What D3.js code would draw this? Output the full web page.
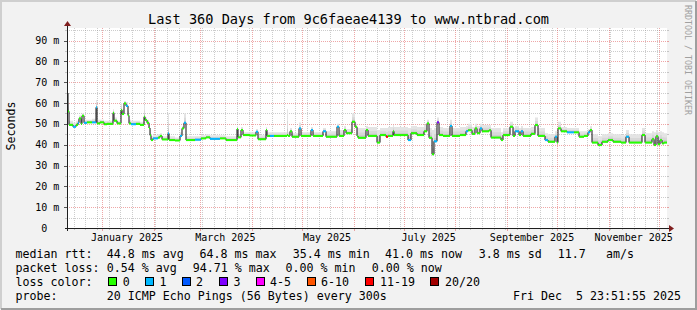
<!DOCTYPE html>
<html lang="en">
<head>
<meta charset="UTF-8">
<title>Last 360 Days</title>
<script src="https://cdn.jsdelivr.net/npm/d3@7"></script>
<style>
  html,body{margin:0;padding:0;background:#f2f2f2;}
  svg{display:block;}
  text{font-family:'DejaVu Sans Mono', monospace;fill:#000;}
</style>
</head>
<body>
<div id="chart"></div>
<script>
// graph window (smokeping, 360 days)
var startTime = Date.UTC(2024, 11, 10, 23, 51, 55);
var endTime   = Date.UTC(2025, 11, 5, 23, 51, 55);

// days since startTime where the median changes
var dayOffset = [0,0.6,1.2,3.6,5.4,6.6,7.2,8.4,9.0,10.2,12.0,15.0,17.4,18.0,19.8,22.2,24.0,27.6,28.2,30.0,
  32.4,33.0,34.2,35.4,36.6,37.2,38.4,41.4,43.8,46.2,46.8,48.0,49.2,49.8,50.4,51.6,54.6,55.8,57.0,60.6,
  61.2,64.8,67.8,69.0,70.2,71.4,76.8,80.4,83.4,85.8,91.8,95.4,102.0,102.6,104.4,105.6,109.8,113.4,114.6,119.4,
  120.0,121.8,124.2,132.0,132.6,133.8,135.0,139.2,140.4,146.4,147.6,153.6,155.4,162.0,163.2,166.2,167.4,171.0,172.8,174.0,
  174.6,179.4,180.6,186.0,187.8,191.4,192.6,195.6,196.2,204.6,206.4,210.0,214.2,216.0,217.2,219.0,220.2,222.0,223.2,225.6,
  229.8,231.0,235.8,239.4,240.6,243.0,244.8,246.0,247.8,249.0,253.2,254.4,260.4,261.6,265.8,267.6,268.8,271.2,272.4,273.6,
  278.4,280.8,282.6,286.8,288.6,292.8,294.0,294.6,296.4,300.0,304.2,307.2,310.2,312.6,313.8,315.0,318.6,321.0,324.6,327.6,
  332.4,335.4,337.2,345.0,346.8,351.0,352.2,353.4,354.6,355.8,357.0,358.2];

// median rtt (ms)
var medianMs = [64.8,56,49.5,48.6,49.5,50.5,52.6,50.0,53.9,50.5,50.7,50.7,57.9,50.2,50.7,49.8,50.0,55.3,51.5,50.2,
  56.6,54.7,59.8,58.6,54.0,50.2,49.8,50.0,49.5,53.4,51.8,50.5,48.0,44.5,42.2,43.0,43.4,44.2,42.5,45.4,
  42.2,42.0,44.2,47.8,50.5,42.2,42.4,43.0,43.5,42.8,43.0,42.2,47.5,43.5,47.0,44.6,44.4,46.2,42.6,47.0,
  44.2,44.2,44.2,44.6,44.2,46.4,43.8,47.8,44.2,47.0,44.2,46.4,43.8,48.6,44.2,47.0,45.5,51.0,48.6,44.2,
  43.3,47.0,44.2,41.0,44.6,43.8,44.2,46.4,44.6,42.2,45.5,44.6,46.4,50.2,43.3,35.4,41.6,50.7,44.6,44.2,
  49.0,44.2,44.6,46.4,46.9,45.2,47.8,45.5,47.8,46.4,46.9,43.4,42.2,44.6,48.6,44.2,46.4,44.6,46.4,44.2,
  45.2,49.4,44.2,42.2,41.4,43.8,41.0,47.8,46.4,45.9,45.9,43.8,44.2,45.9,47.0,41.0,39.8,41.4,42.2,41.4,
  41.0,43.8,41.0,44.6,41.0,42.6,39.8,44.0,40.2,42.2,40.6,41.0];

// top of the smoke (slowest ping, ms)
var smokeTopMs = [72,60,51.5,50.5,51.5,52,54,52,55,52,52,52.5,61.4,52,52,51.5,51.5,57,53,51.5,
  60,57,61,60.5,56,52,51.5,51.5,51,59,53,52,50,47,44,44.5,45,45.5,44,55,
  44,43.5,46,49,55,44,44,44.5,45,44.5,44.5,44,49,45,48.5,46,46,47.5,44.5,48.5,
  46,46,46,57,46,48,45.5,50.6,46,48.5,46,48,46.5,50,47,49,47.5,55,50,48,
  48,49,48.5,47,48,48,48.5,49.5,48.5,48,49,48.5,49.5,52,48,47,48,53,48.5,48,
  52,48,48.5,49,50,48.5,50,49,50,49.5,49.5,48,46,48,51,48,49,48,49,48,
  48.5,53,48,45.5,45,46.5,45,51,48.5,48,48,46.5,46.5,47.5,49,45,44,45,45.5,45,
  44.5,47,45,48,45.5,46.5,46,47,46,46.5,46,45.5];

// lost pings out of 20
var lossCount = [1,0,0,1,0,1,0,0,0,1,0,1,1,0,0,0,0,0,0,0,
  0,0,0,1,0,0,1,0,0,0,0,0,0,0,0,1,0,0,0,1,
  0,0,1,0,1,0,1,0,0,1,0,0,0,0,0,0,0,1,0,0,
  0,1,0,0,0,0,0,1,0,1,0,1,0,1,0,0,0,0,0,0,
  0,0,0,0,0,15,0,0,0,1,0,0,0,0,0,0,1,3,0,0,
  1,0,0,1,0,0,0,0,1,0,0,0,0,0,0,0,1,0,1,0,
  0,0,0,1,0,1,0,0,0,1,0,0,0,1,0,0,0,0,0,0,
  0,1,0,0,0,0,0,0,0,0,0,0];

var yTickValues = [0, 10, 20, 30, 40, 50, 60, 70, 80, 90];
var yMinorValues = [5, 15, 25, 35, 45, 55, 65, 75, 85, 95];
var monthLabels = ["2025-01-01", "2025-03-01", "2025-05-01", "2025-07-01", "2025-09-01", "2025-11-01"];

var rttStats = ["44.8 ms avg", "64.8 ms max", "35.4 ms min", "41.0 ms now", "3.8 ms sd", "11.7", "am/s"];
var lossStats = ["0.54 % avg", "94.71 % max", "0.00 % min", "0.00 % now"];
var lossLabels = ["0", "1", "2", "3", "4-5", "6-10", "11-19", "20/20"];
var lossUpper  = [0, 1, 2, 3, 5, 10, 19, 20];
var lossColors = ["#26ff00", "#00b8ff", "#0059ff", "#7e00ff", "#ff00ff", "#ff5500", "#ff0000", "#a10000"];

var width = 697, height = 310;
var plotLeft = 67, plotRight = 667, plotTop = 28, plotBottom = 228;

var svg = d3.select("#chart").append("svg")
    .attr("width", width)
    .attr("height", height);

// frame
svg.append("rect").attr("width", width).attr("height", height).attr("fill", "#f2f2f2");
svg.append("path").attr("d", "M1,309 V1 H696").attr("stroke", "#cfcfcf").attr("stroke-width", 2).attr("fill", "none");
svg.append("path").attr("d", "M1,309 H696 V1").attr("stroke", "#9e9e9e").attr("stroke-width", 2).attr("fill", "none");

svg.append("rect")
    .attr("x", plotLeft).attr("y", plotTop)
    .attr("width", plotRight - plotLeft).attr("height", plotBottom - plotTop)
    .attr("fill", "#fff");

var x = d3.scaleUtc().domain([startTime, endTime]).range([plotLeft, plotRight]);
var y = d3.scaleLinear().domain([0, 96]).range([plotBottom, plotTop]);

var grid = svg.append("g").attr("shape-rendering", "crispEdges");
var minorCol = "rgba(143,143,143,0.45)", majorCol = "rgba(222,79,79,0.5)";

// horizontal grid
yMinorValues.forEach(function(v){
  var yy = Math.round(y(v)) + 0.5;
  grid.append("line").attr("x1", plotLeft).attr("x2", plotRight).attr("y1", yy).attr("y2", yy)
    .attr("stroke", minorCol).attr("stroke-dasharray", "1,1");
  grid.append("line").attr("x1", plotLeft - 2).attr("x2", plotLeft).attr("y1", yy).attr("y2", yy).attr("stroke", minorCol);
  grid.append("line").attr("x1", plotRight).attr("x2", plotRight + 2).attr("y1", yy).attr("y2", yy).attr("stroke", minorCol);
});
yTickValues.slice(1).forEach(function(v){
  var yy = Math.round(y(v)) + 0.5;
  grid.append("line").attr("x1", plotLeft).attr("x2", plotRight).attr("y1", yy).attr("y2", yy)
    .attr("stroke", majorCol).attr("stroke-dasharray", "1,1");
  grid.append("line").attr("x1", plotLeft - 3).attr("x2", plotLeft).attr("y1", yy).attr("y2", yy).attr("stroke", "#555");
  grid.append("line").attr("x1", plotRight).attr("x2", plotRight + 2).attr("y1", yy).attr("y2", yy).attr("stroke", majorCol);
});

// vertical grid: weeks and months
d3.utcSunday.range(new Date(startTime), new Date(endTime)).forEach(function(d){
  if (d.getUTCDate() === 1) return;
  var xx = Math.round(x(d)) + 0.5;
  grid.append("line").attr("x1", xx).attr("x2", xx).attr("y1", plotTop).attr("y2", plotBottom)
    .attr("stroke", minorCol).attr("stroke-dasharray", "1,1");
  grid.append("line").attr("x1", xx).attr("x2", xx).attr("y1", plotBottom).attr("y2", plotBottom + 2).attr("stroke", minorCol);
});
d3.utcMonth.range(new Date(startTime), new Date(endTime)).forEach(function(d){
  var xx = Math.round(x(d)) + 0.5;
  grid.append("line").attr("x1", xx).attr("x2", xx).attr("y1", plotTop).attr("y2", plotBottom)
    .attr("stroke", majorCol).attr("stroke-dasharray", "1,1");
  grid.append("line").attr("x1", xx).attr("x2", xx).attr("y1", plotBottom).attr("y2", plotBottom + 3).attr("stroke", majorCol);
});

// data points, last one held to the end of the graph
var pts = dayOffset.map(function(d, i){
  return { t: startTime + d * 864e5, med: medianMs[i], top: smokeTopMs[i], loss: lossCount[i] };
});
var last = pts[pts.length - 1];
pts.push({ t: endTime, med: last.med, top: last.top, loss: last.loss });

// smoke, a little darker close to the median
var smoke = svg.append("g");
[[1, "#e4e4e4"], [0.55, "rgba(0,0,0,0.05)"], [0.25, "rgba(0,0,0,0.07)"]].forEach(function(s){
  var area = d3.area().curve(d3.curveStepAfter)
      .x(function(d){ return x(d.t); })
      .y0(function(d){ return y(d.med) + 0.5; })
      .y1(function(d){ return y(d.med + (d.top - d.med) * s[0]); });
  smoke.append("path").datum(pts).attr("d", area).attr("fill", s[1]);
});

// median line
var line = d3.line().curve(d3.curveStepAfter)
    .x(function(d){ return x(d.t); })
    .y(function(d){ return y(d.med); });
svg.append("path").datum(pts).attr("d", line)
    .attr("fill", "none").attr("stroke", "#111").attr("stroke-width", 1);

function lossColor(l){
  for (var i = 0; i < lossUpper.length; i++) if (l <= lossUpper[i]) return lossColors[i];
  return lossColors[lossColors.length - 1];
}

// loss coloured median marks
svg.append("g").selectAll("rect")
  .data(pts.slice(0, -1))
  .enter().append("rect")
    .attr("x", function(d){ return x(d.t); })
    .attr("width", function(d, i){ return Math.max(1, x(pts[i + 1].t) - x(d.t)); })
    .attr("y", function(d){ return y(d.med) - 1; })
    .attr("height", 2)
    .attr("fill", function(d){ return lossColor(d.loss); });

// axes
svg.append("line").attr("x1", plotLeft - 2).attr("x2", plotRight + 3).attr("y1", plotBottom + 0.5).attr("y2", plotBottom + 0.5)
    .attr("stroke", "#1f1f1f").attr("shape-rendering", "crispEdges");
svg.append("line").attr("x1", plotLeft + 0.5).attr("x2", plotLeft + 0.5).attr("y1", plotBottom + 3).attr("y2", plotTop - 3)
    .attr("stroke", "#1f1f1f").attr("shape-rendering", "crispEdges");
svg.append("path").attr("d", "M669,225 L674,228.5 L669,232 Z").attr("fill", "#801f1f");
svg.append("path").attr("d", "M64,26 L67.5,21 L71,26 Z").attr("fill", "#801f1f");

// y labels
svg.append("g").selectAll("text")
  .data(yTickValues)
  .enter().append("text")
    .attr("x", function(d){ return d === 0 ? 41.3 : 35.3; })
    .attr("y", function(d){ return y(d) + 3.6; })
    .style("font-size", "10px")
    .text(function(d){ return d === 0 ? "0" : d + " m"; });

// month labels, centred on the month
var fmt = d3.utcFormat("%B %Y");
svg.append("g").selectAll("text")
  .data(monthLabels.map(function(s){ return new Date(s + "T00:00:00Z"); }))
  .enter().append("text")
    .attr("x", function(d){ return x(d3.utcDay.offset(d, 15)); })
    .attr("y", 240.5)
    .attr("text-anchor", "middle")
    .style("font-size", "10px")
    .text(function(d){ return fmt(d); });

// title, vertical label, watermark
svg.append("text").attr("x", 348.5).attr("y", 24).attr("text-anchor", "middle")
    .style("font-size", "13.6px").text("Last 360 Days from 9c6faeae4139 to www.ntbrad.com");
svg.append("text").attr("transform", "translate(15,126) rotate(-90)").attr("text-anchor", "middle")
    .style("font-size", "11.63px").text("Seconds");
svg.append("text").attr("transform", "translate(685,5) rotate(90)")
    .style("font-size", "8.3px").style("fill", "#a0a0a0").text("RRDTOOL / TOBI OETIKER");

// legend
var lg = svg.append("g").style("font-size", "11.63px");
function put(tx, px, py){ lg.append("text").attr("x", px - 0.6).attr("y", py).text(tx); }

put("median rtt:", 16, 258);
[107.3, 200, 293.3, 385.7, 479.3, 558.3, 606.7].forEach(function(px, i){ put(rttStats[i], px, 258); });

put("packet loss:", 16, 272);
[107.3, 193.3, 286, 372.3].forEach(function(px, i){ put(lossStats[i], px, 272); });

put("loss color:", 16, 286);
var boxX = [108.5, 145.5, 182.5, 219.5, 256.5, 307.5, 365.5, 430.5];
var labX = [123.3, 160, 196.7, 234, 270.7, 321.7, 380.7, 445.7];
lossLabels.forEach(function(l, i){
  lg.append("rect").attr("x", boxX[i]).attr("y", 277.5).attr("width", 8).attr("height", 8)
    .attr("fill", lossColors[i]).attr("stroke", "#000").attr("stroke-width", 1);
  put(l, labX[i], 286);
});

put("probe:", 16, 300);
put("20 ICMP Echo Pings (56 Bytes) every 300s", 107.3, 300);
lg.append("text").attr("x", 681).attr("y", 300).attr("text-anchor", "end")
    .style("white-space", "pre").text("Fri Dec  5 23:51:55 2025");
</script>
</body>
</html>
